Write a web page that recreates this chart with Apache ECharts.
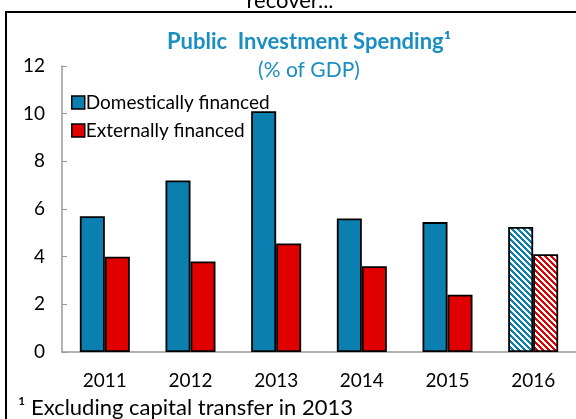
<!DOCTYPE html>
<html>
<head>
<meta charset="utf-8">
<script src="https://cdn.jsdelivr.net/npm/echarts@6/dist/echarts.min.js"></script>
<style>
  html, body { margin: 0; padding: 0; background: #fff; overflow: hidden; }
  #chart { width: 576px; height: 419px; }
</style>
</head>
<body>
<div id="chart"></div>
<script>
const years = ['2011', '2012', '2013', '2014', '2015', '2016']
const domestic = [5.7, 7.2, 10.1, 5.6, 5.45, 5.25]
const external = [4.0, 3.8, 4.55, 3.6, 2.4, 4.1]
const projectedYear = '2016'

const BLUE = '#0b80b0'
const RED = '#e00000'
const FONT = 'Lato, "Open Sans", sans-serif'

// diagonal hatch for the projected year
function hatch(color) {
  const c = document.createElement('canvas')
  c.width = 6
  c.height = 6
  const ctx = c.getContext('2d')
  ctx.fillStyle = '#fff'
  ctx.fillRect(0, 0, 6, 6)
  ctx.fillStyle = color
  for (let x = 0; x < 6; x++) {
    for (let y = 0; y < 6; y++) {
      if ((x - y + 6) % 6 < 3) ctx.fillRect(x, y, 1, 1)
    }
  }
  return { image: c, repeat: 'repeat' }
}

function toData(values, color) {
  return values.map((v, i) => years[i] === projectedYear
    ? { value: v, itemStyle: { color: hatch(color) } }
    : v)
}

const chart = echarts.init(document.getElementById('chart'))

const barStyle = (color) => ({
  type: 'bar',
  barWidth: 25,
  barGap: '0%',
  itemStyle: { color, borderColor: '#000', borderWidth: 1.8 },
})

chart.setOption({
  animation: false,
  textStyle: { fontFamily: FONT },
  graphic: [
    {
      type: 'rect',
      shape: { x: 6, y: 12, width: 620, height: 460 },
      style: { fill: 'none', stroke: '#000', lineWidth: 2 },
      z: 0,
    },
    {
      type: 'text',
      x: 290, y: 1,
      style: { text: 'recover...', font: '22px ' + FONT, fill: '#000', textAlign: 'center', textVerticalAlign: 'middle' },
    },
    {
      type: 'text',
      x: 309, y: 42,
      style: { text: 'Public  Investment Spending\u00b9', font: 'bold 22px ' + FONT, fill: '#1a8ec0', textAlign: 'center', textVerticalAlign: 'middle' },
    },
    {
      type: 'text',
      x: 309, y: 70,
      style: { text: '(% of GDP)', font: '21px ' + FONT, fill: '#1a8ec0', textAlign: 'center', textVerticalAlign: 'middle' },
    },
    {
      type: 'text',
      x: 18, y: 408,
      style: { text: '\u00b9 Excluding capital transfer in 2013', font: '22px ' + FONT, fill: '#000', textVerticalAlign: 'middle' },
    },
  ],
  legend: {
    left: 66,
    top: 88,
    orient: 'vertical',
    itemWidth: 13,
    itemHeight: 13,
    itemGap: 9,
    icon: 'rect',
    textStyle: { fontSize: 19, color: '#000', padding: [0, 0, 0, -4] },
    itemStyle: { borderColor: '#000', borderWidth: 1.5 },
    data: ['Domestically financed', 'Externally financed'],
  },
  grid: { left: 62, right: -10, top: 66, bottom: 67 },
  xAxis: {
    type: 'category',
    data: years,
    axisLine: { lineStyle: { color: '#999', width: 1.5 } },
    axisTick: { inside: true, length: 5, lineStyle: { color: '#999' } },
    axisLabel: { fontSize: 19, color: '#000', margin: 19 },
  },
  yAxis: {
    type: 'value',
    min: 0,
    max: 12,
    interval: 2,
    splitLine: { show: false },
    axisLine: { show: true, lineStyle: { color: '#999', width: 1.5 } },
    axisTick: { show: true, inside: true, length: 5, lineStyle: { color: '#999' } },
    axisLabel: { fontSize: 19, color: '#000', margin: 17 },
  },
  series: [
    { ...barStyle(BLUE), name: 'Domestically financed', data: toData(domestic, BLUE) },
    { ...barStyle(RED), name: 'Externally financed', data: toData(external, RED) },
  ],
})
</script>
</body>
</html>
